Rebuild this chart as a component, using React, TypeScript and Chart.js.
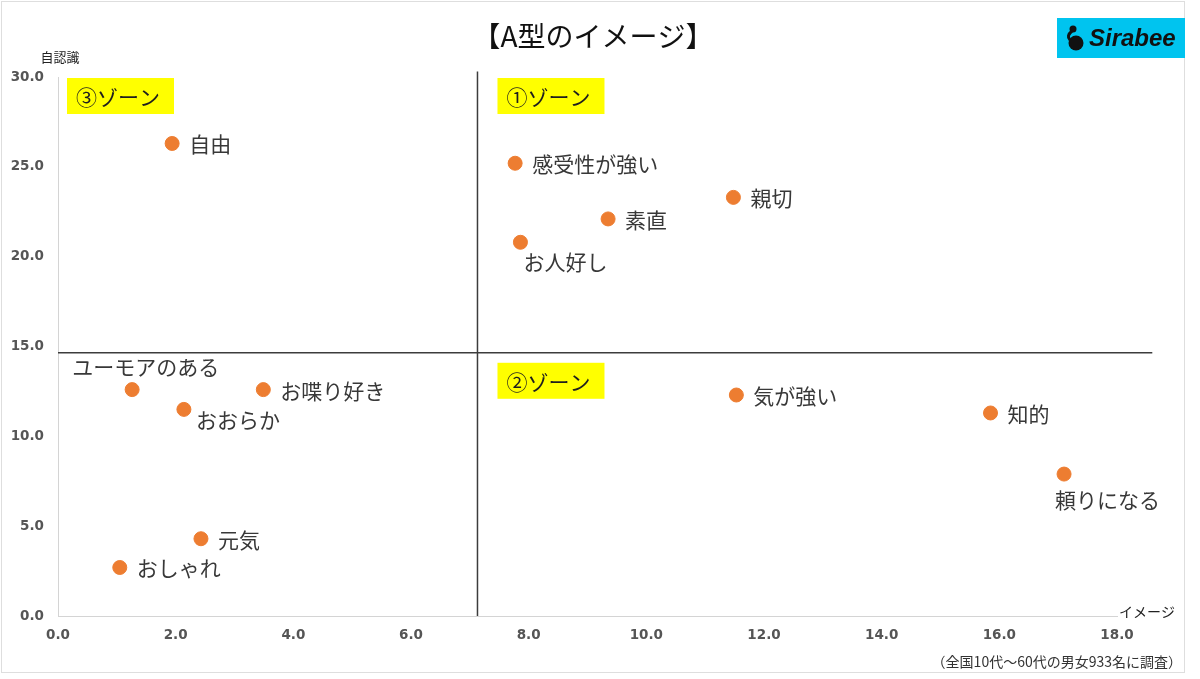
import { useEffect, useRef } from 'react';
import { Chart, registerables } from 'chart.js';

Chart.register(...registerables);

// ---- data ----
const traitNames = ['自由', '感受性が強い', '親切', '素直', 'お人好し', 'ユーモアのある', 'お喋り好き', 'おおらか', '気が強い', '知的', '頼りになる', '元気', 'おしゃれ'];
const imageScores = [1.94, 7.77, 11.48, 9.35, 7.86, 1.26, 3.49, 2.14, 11.53, 15.85, 17.1, 2.43, 1.05];
const selfScores = [26.3, 25.2, 23.3, 22.1, 20.8, 12.6, 12.6, 11.5, 12.3, 11.3, 7.9, 4.3, 2.7];
const dividerX = 7.13;
const dividerY = 14.65;
const xRange = [0, 18];
const yRange = [0, 30];
const zoneNames = ['①ゾーン', '②ゾーン', '③ゾーン'];
const titleText = '【A型のイメージ】';
const yAxisTitle = '自認識';
const xAxisTitle = 'イメージ';
const footnote = '（全国10代〜60代の男女933名に調査）';

// label placement (style): pixel offset from the dot, left-aligned
const labelOffsets: Record<string, [number, number]> = {
  'お人好し': [3, 20],
  'ユーモアのある': [-60, -23],
  'おおらか': [12, 11],
  '頼りになる': [-9, 26],
};
const defaultOffset: [number, number] = [17, 1];

const JP = '"Noto Sans CJK JP", "Noto Sans", sans-serif';
const NUM = '"DejaVu Sans", "Liberation Sans", sans-serif';

const decorPlugin = {
  id: 'decor',
  beforeDatasetsDraw(chart: any) {
    const { ctx, chartArea, scales } = chart;
    const xs = scales.x, ys = scales.y;
    ctx.save();
    ctx.strokeStyle = '#3c3c3c';
    ctx.lineWidth = 1.5;
    const vx = xs.getPixelForValue(dividerX);
    const hy = ys.getPixelForValue(dividerY);
    ctx.beginPath();
    ctx.moveTo(vx, ys.getPixelForValue(30.3));
    ctx.lineTo(vx, chartArea.bottom);
    ctx.moveTo(chartArea.left, hy);
    ctx.lineTo(xs.getPixelForValue(18.6), hy);
    ctx.stroke();

    // zone boxes
    const boxW = 107, boxH = 36;
    const boxes: [string, number, number][] = [
      [zoneNames[0], vx + 20, chartArea.top + 1],
      [zoneNames[1], vx + 20, hy + 10],
      [zoneNames[2], chartArea.left + 9, chartArea.top + 1],
    ];
    ctx.font = `21px ${JP}`;
    ctx.textBaseline = 'middle';
    ctx.textAlign = 'left';
    for (const [t, bx, by] of boxes) {
      ctx.fillStyle = '#ffff00';
      ctx.fillRect(bx, by, boxW, boxH);
      ctx.fillStyle = '#1e1e1e';
      ctx.fillText(t, bx + 9, by + boxH / 2 + 1);
    }
    ctx.restore();
  },
  afterDatasetsDraw(chart: any) {
    const { ctx, scales } = chart;
    const xs = scales.x, ys = scales.y;
    ctx.save();
    // point labels
    ctx.font = `21px ${JP}`;
    ctx.fillStyle = '#383838';
    ctx.textBaseline = 'middle';
    ctx.textAlign = 'left';
    traitNames.forEach((n, i) => {
      const px = xs.getPixelForValue(imageScores[i]);
      const py = ys.getPixelForValue(selfScores[i]);
      const [dx, dy] = labelOffsets[n] || defaultOffset;
      ctx.fillText(n, px + dx, py + dy);
    });

    // frame
    ctx.strokeStyle = '#dedede';
    ctx.lineWidth = 1;
    ctx.strokeRect(1.5, 1.5, 1183, 671);

    // title
    ctx.fillStyle = '#111';
    ctx.font = `28px ${JP}`;
    ctx.textAlign = 'center';
    ctx.fillText(titleText, 593, 36);

    // axis titles
    ctx.font = `13px ${JP}`;
    ctx.fillStyle = '#222';
    ctx.textAlign = 'center';
    ctx.fillText(yAxisTitle, 60, 57);
    ctx.font = `14px ${JP}`;
    ctx.textAlign = 'left';
    ctx.fillText(xAxisTitle, 1119, 612);

    // footnote
    ctx.font = `14px ${JP}`;
    ctx.textAlign = 'right';
    ctx.fillStyle = '#333';
    ctx.fillText(footnote, 1182, 662);

    // logo
    ctx.fillStyle = '#00c4ef';
    ctx.fillRect(1057, 18, 128, 40);
    ctx.fillStyle = '#111';
    ctx.beginPath();
    ctx.arc(1076, 43, 7.5, 0, Math.PI * 2);
    ctx.fill();
    ctx.beginPath();
    ctx.arc(1073, 29, 3.5, 0, Math.PI * 2);
    ctx.fill();
    ctx.lineWidth = 3;
    ctx.strokeStyle = '#111';
    ctx.beginPath();
    ctx.moveTo(1072, 31);
    ctx.quadraticCurveTo(1066, 36, 1070, 40);
    ctx.stroke();
    ctx.fillStyle = '#111';
    ctx.font = `italic bold 24px "Liberation Sans", Arial, sans-serif`;
    ctx.textAlign = 'left';
    ctx.fillText('Sirabee', 1089, 39);
    ctx.restore();
  },
};

export default function App() {
  const ref = useRef<HTMLCanvasElement | null>(null);
  useEffect(() => {
    document.body.style.margin = '0';
    if (!ref.current) return;
    const chart = new Chart(ref.current, {
      type: 'scatter',
      data: {
        datasets: [
          {
            label: 'A型',
            data: traitNames.map((_, i) => ({ x: imageScores[i], y: selfScores[i] })),
            backgroundColor: '#ed7d31',
            borderColor: '#ed7d31',
            pointRadius: 7,
            pointHoverRadius: 7,
          },
        ],
      },
      options: {
        animation: false,
        responsive: false,
        devicePixelRatio: 1,
        layout: { padding: { top: 77, right: 83, left: 0, bottom: 0 } },
        plugins: { legend: { display: false }, tooltip: { enabled: false }, title: { display: false } },
        scales: {
          x: {
            type: 'linear',
            min: xRange[0],
            max: xRange[1],
            grid: { display: false, drawTicks: false },
            border: { display: true, color: '#d4d4d4', width: 1 },
            ticks: {
              stepSize: 2,
              padding: 11,
              color: '#555555',
              font: { family: NUM, size: 13.5, weight: 'bold' },
              callback: (v: any) => Number(v).toFixed(1),
            },
            afterFit: (s: any) => { s.height = 63; },
          },
          y: {
            type: 'linear',
            min: yRange[0],
            max: yRange[1],
            grid: { display: false, drawTicks: false },
            border: { display: true, color: '#d4d4d4', width: 1 },
            ticks: {
              stepSize: 5,
              padding: 14,
              color: '#555555',
              font: { family: NUM, size: 13.5, weight: 'bold' },
              callback: (v: any) => Number(v).toFixed(1),
            },
            afterFit: (s: any) => { s.width = 58; },
          },
        },
      },
      plugins: [decorPlugin],
    } as any);
    return () => chart.destroy();
  }, []);
  return (
    <div style={{ width: 1200, height: 679, background: '#fff' }}>
      <canvas ref={ref} width={1200} height={679} style={{ width: 1200, height: 679, display: 'block' }} />
    </div>
  );
}
